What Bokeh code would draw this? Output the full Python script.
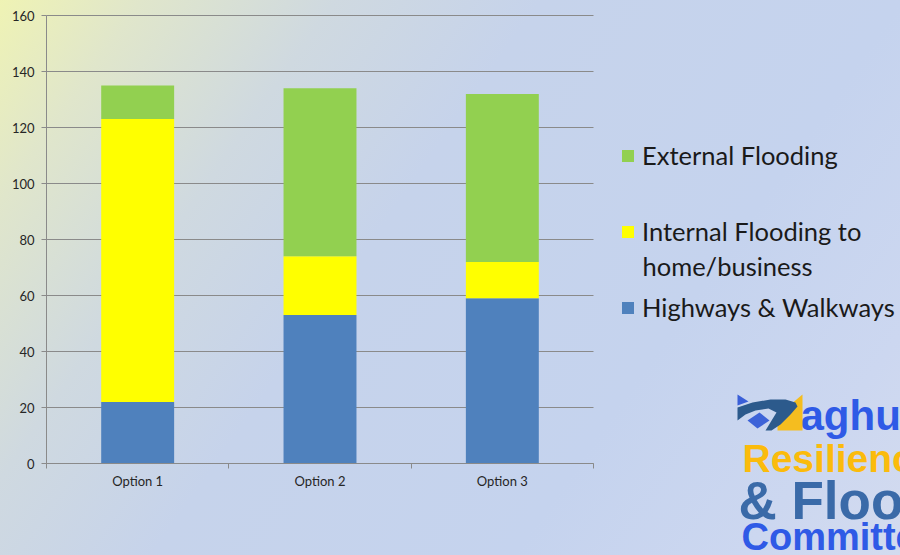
from bokeh.plotting import figure
from bokeh.models import (ColumnDataSource, Legend, LegendItem, FixedTicker, Label,
                          PolyAnnotation, Range1d)
from bokeh.embed import file_html
from bokeh.resources import INLINE

# ---- data ----
categories = ["Option 1", "Option 2", "Option 3"]
highways = [22, 53, 59]
internal = [101, 21, 13]
external = [12, 60, 60]
series_keys = ["highways", "internal", "external"]
series_names = ["Highways & Walkways", "Internal Flooding to", "External Flooding"]
internal_name_cont = "home/business"
series_colors = ["#4f81bd", "#ffff00", "#92d050"]
y_ticks = [0, 20, 40, 60, 80, 100, 120, 140, 160]
y_max = 160

x_centers = [i + 0.5 for i in range(len(categories))]
x_bounds = list(range(len(categories) + 1))
n_cat = len(categories)

src = ColumnDataSource(dict(x=x_centers, highways=highways, internal=internal, external=external))

# ---- layout constants (pixels) ----
W, H = 900, 555
PL, PR, PT, PB = 46, 593, 15, 463   # chart plot-area box on the page
ppx = (PR - PL) / n_cat
ppy = (PB - PT) / y_max

p = figure(width=W, height=H, output_backend="svg", toolbar_location=None,
           x_range=Range1d(-PL / ppx, (W - PL) / ppx),
           y_range=Range1d(-(H - PB) / ppy, y_max + PT / ppy),
           min_border=0, min_border_left=0, min_border_right=0,
           min_border_top=0, min_border_bottom=0)
p.background_fill_color = None
p.border_fill_color = None
p.outline_line_color = None
p.styles = {"background": "linear-gradient(125deg, #eff3b4 0%, #e0e6cb 11%, #cfd9e0 26%, #c6d3eb 42%, #c5d3ee 70%, #ccd7f0 88%, #d3dbef 100%)"}
p.xgrid.visible = False
p.ygrid.visible = False

grey = "#8a8a8a"

# grid lines (drawn from the tick values through the scales)
p.segment(x0=[0] * len(y_ticks), x1=[n_cat] * len(y_ticks), y0=y_ticks, y1=y_ticks,
          line_color=grey, line_width=1)

rs = p.vbar_stack(series_keys, x="x", width=0.4, color=series_colors, line_color=None, source=src)

tick_font = "Lato"
xa = p.xaxis[0]
ya = p.yaxis[0]
xa.fixed_location = 0
ya.fixed_location = 0
xa.bounds = (0, n_cat)
ya.bounds = (0, y_max)
xa.ticker = FixedTicker(ticks=x_centers, minor_ticks=x_bounds)
xa.major_label_overrides = {xc: c for xc, c in zip(x_centers, categories)}
xa.major_tick_in = 0
xa.major_tick_out = 0
xa.minor_tick_in = 0
xa.minor_tick_out = 5
xa.minor_tick_line_color = grey
xa.axis_line_color = grey
xa.major_label_standoff = 4
ya.ticker = FixedTicker(ticks=y_ticks)
ya.major_tick_in = 0
ya.major_tick_out = 5
ya.minor_tick_out = 0
ya.major_tick_line_color = grey
ya.axis_line_color = grey
ya.major_label_standoff = 7
for ax in (xa, ya):
    ax.major_label_text_font = tick_font
    ax.major_label_text_font_size = "13px"
    ax.major_label_text_color = "#262626"

# ---- legend ----
LEG_FONT = "25.5px"
ITEM_H = 34
def make_legend(items, center_y):
    return Legend(items=items, location=(620, H - (center_y + ITEM_H / 2)),
                  background_fill_alpha=0, border_line_color=None,
                  padding=0, margin=0, glyph_width=15, glyph_height=15, label_standoff=7,
                  label_text_font="Lato", label_text_font_size=LEG_FONT, label_text_color="#1a1a1a",
                  spacing=0, label_height=ITEM_H)

p.add_layout(make_legend([LegendItem(label=series_names[2], renderers=[rs[2]])], 155))
p.add_layout(make_legend([LegendItem(label=series_names[1], renderers=[rs[1]])], 231))
p.add_layout(make_legend([LegendItem(label=series_names[0], renderers=[rs[0]])], 307))
p.add_layout(Label(x=642, y=H - 265, x_units="screen", y_units="screen", text=internal_name_cont,
                   text_font="Lato", text_font_size=LEG_FONT, text_color="#1a1a1a",
                   text_baseline="middle"))

# ---- logo (bottom right) ----
logo = [("aghull", 800, 415, "42px", "#2f5ae6"),
        ("Resilience", 742, 458, "39px", "#fbbb0c"),
        ("& Flood", 738, 500, "53px", "#3a6aa8"),
        ("Committee", 741, 536, "38px", "#2f5ae6")]
for t, X, Y, fs, col in logo:
    p.add_layout(Label(x=X, y=H - Y, x_units="screen", y_units="screen", text=t,
                       text_font="Liberation Sans", text_font_style="bold", text_font_size=fs,
                       text_color=col, text_baseline="alphabetic"))

icon = [
    ([802, 802, 777, 777], [394, 430, 430, 415], "#f5bd1f"),
    ([737, 748, 737], [394, 401, 405], "#3a5fd8"),
    ([737, 752, 770, 785, 795, 797, 790, 780, 771, 765, 776, 768, 755, 745, 737],
     [407, 402, 399, 399, 402, 406, 414, 424, 430, 430, 412, 408, 410, 414, 420], "#2c5a8c"),
    ([747, 759, 769, 757], [420, 412, 420, 428], "#3d63d8"),
]
for xs, ys, col in icon:
    p.add_layout(PolyAnnotation(xs=xs, ys=[H - v for v in ys],
                                xs_units="screen", ys_units="screen",
                                fill_color=col, fill_alpha=1, line_color=None))

open("out.html", "w").write(file_html(p, INLINE))
